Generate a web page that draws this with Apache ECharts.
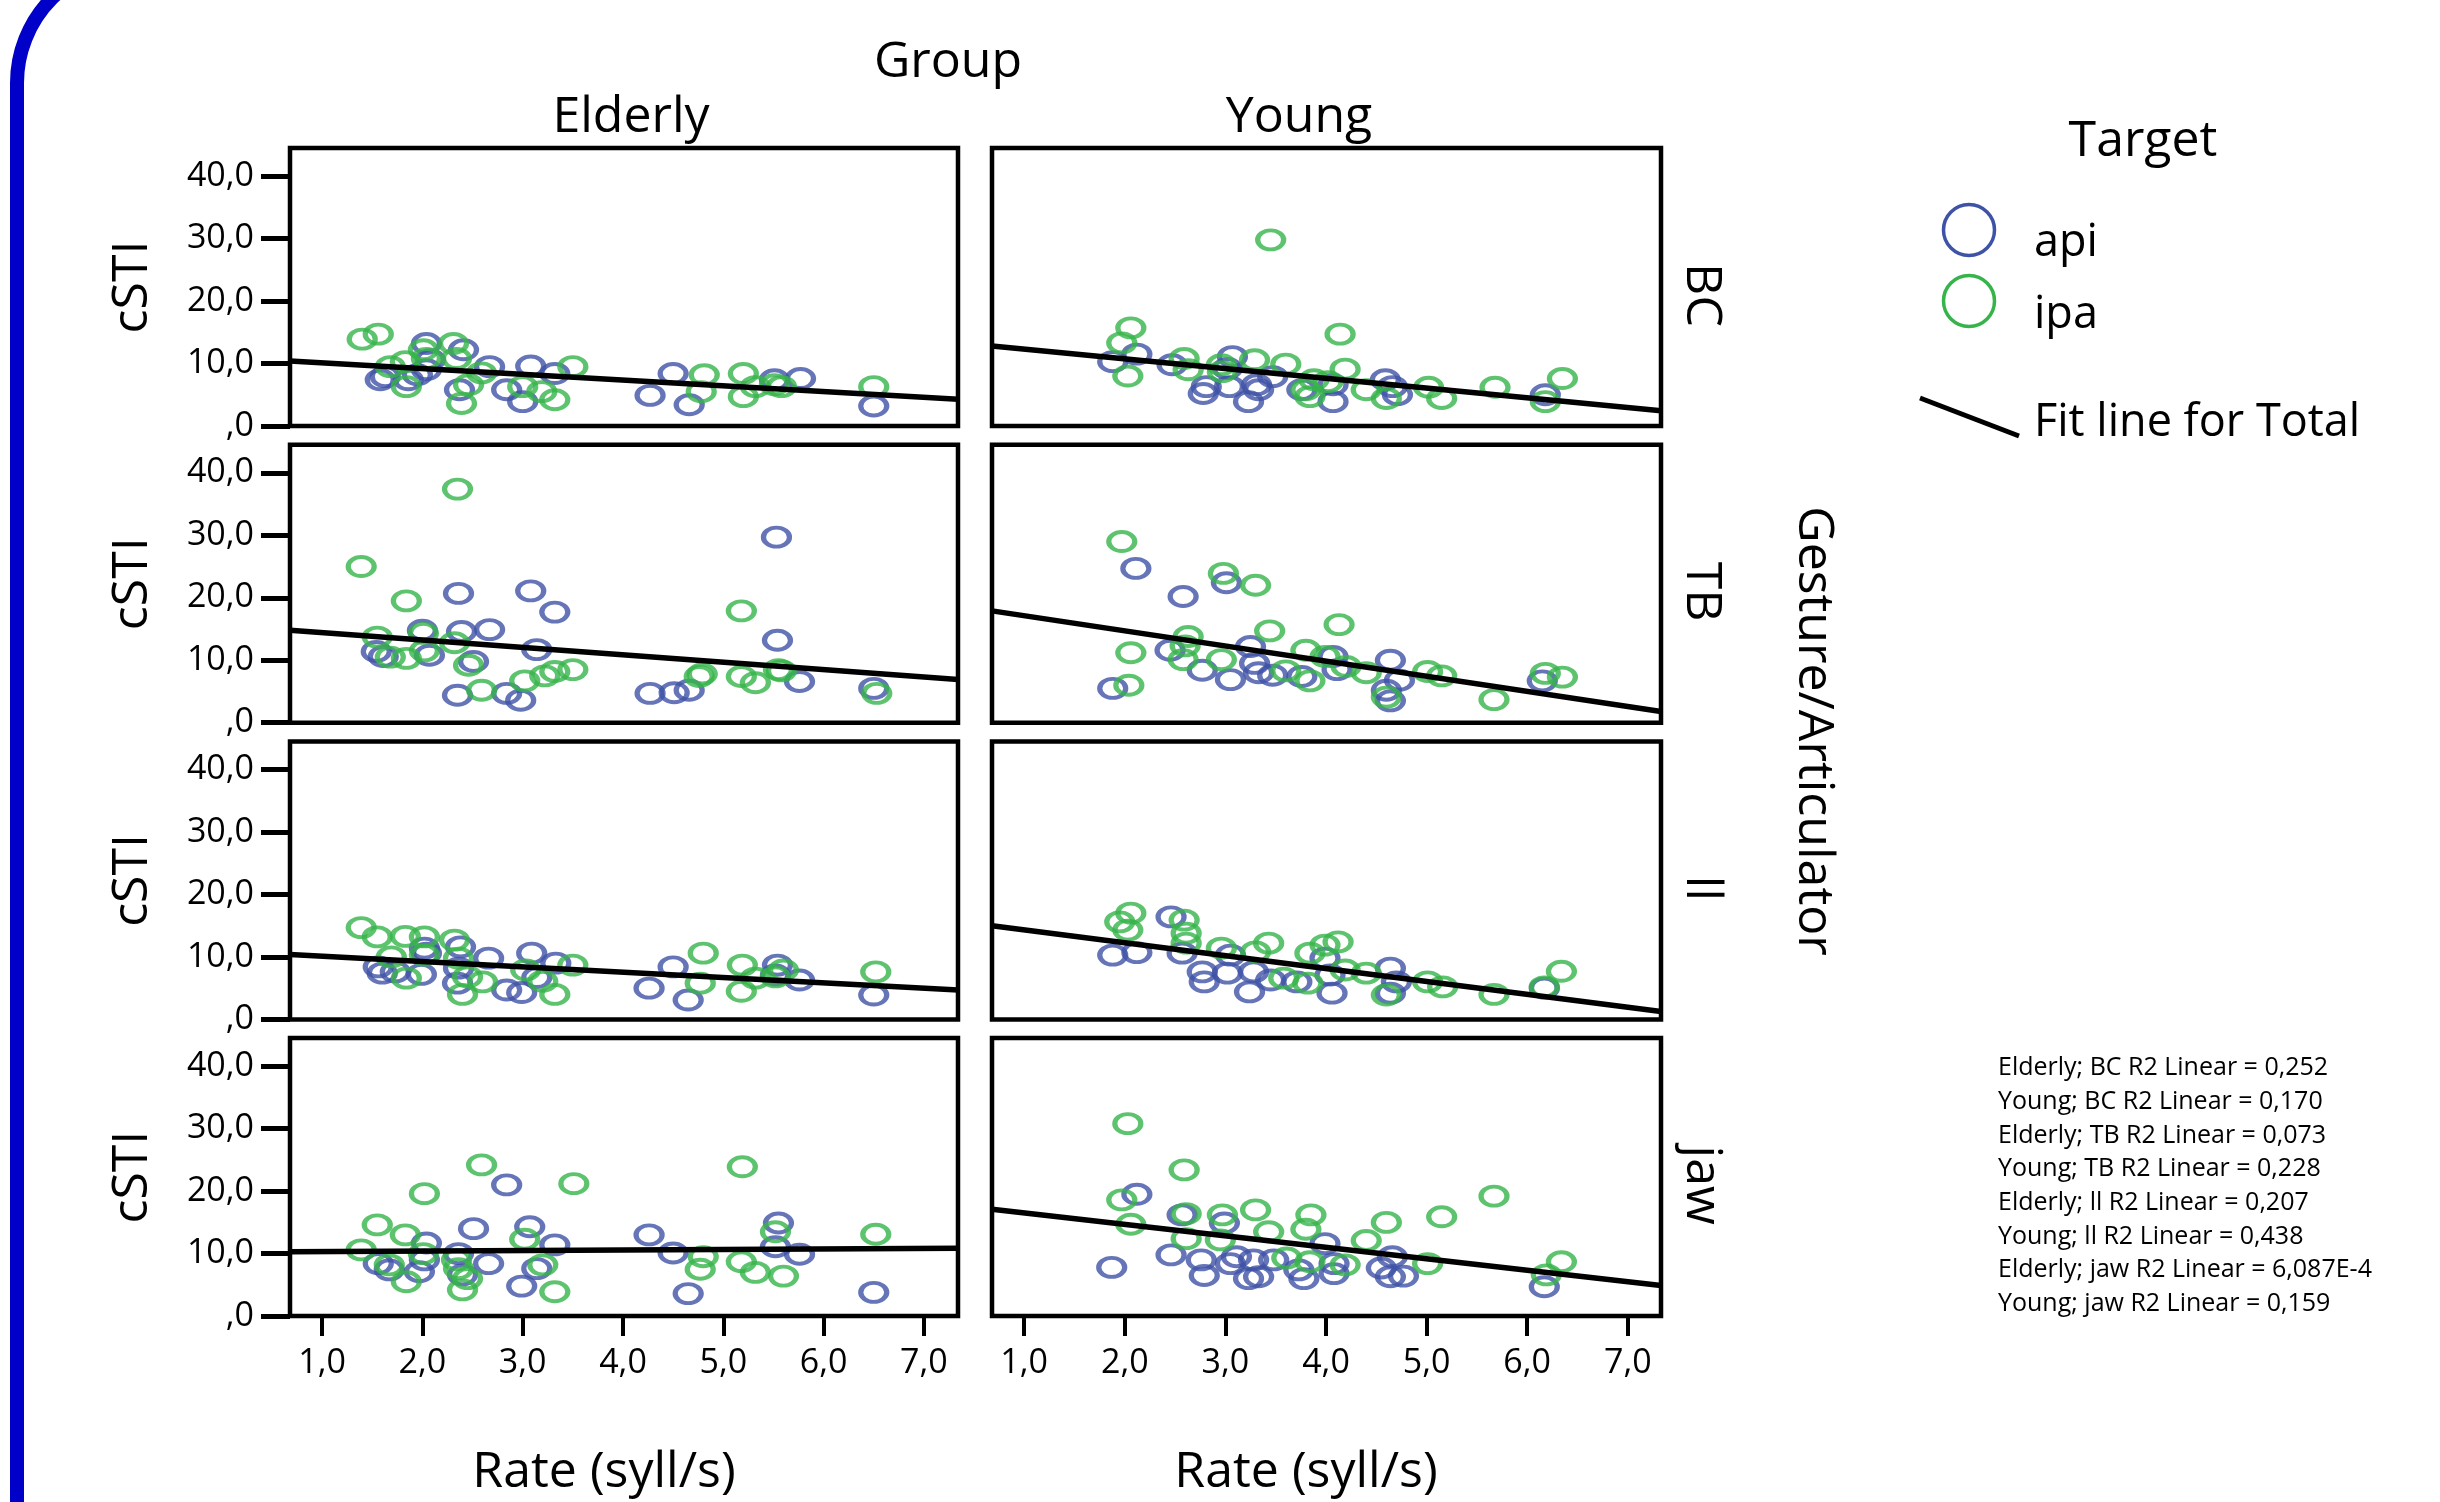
<!DOCTYPE html>
<html><head><meta charset="utf-8">
<script src="https://cdn.jsdelivr.net/npm/echarts@6/dist/echarts.min.js"></script>
<style>html,body{margin:0;padding:0;background:#fff}#c{width:2440px;height:1502px}</style>
</head><body><div id="c"></div>
<script>
// ---------- categories / ticks ----------
const groups = ['Elderly', 'Young'];
const articulators = ['BC', 'TB', 'll', 'jaw'];
const xTicks = [1, 2, 3, 4, 5, 6, 7];
const yTicks = [0, 10, 20, 30, 40];
const targets = ['api', 'ipa'];

// ---------- data: [rate, cSTI] ----------
const elderlyBC_api = [[1.58,7.4],[1.63,7.9],[1.86,7.4],[1.95,8.2],[2.04,13.2],[2.04,9.0],[2.08,10.6],[2.37,5.8],[2.41,12.2],[2.67,9.5],[2.84,5.8],[3.0,3.9],[3.08,9.6],[3.32,8.4],[4.27,4.9],[4.50,8.4],[4.66,3.4],[5.51,7.4],[5.77,7.6],[6.50,3.2]];
const elderlyBC_ipa = [[1.40,13.9],[1.56,14.7],[1.68,9.5],[1.83,10.3],[1.84,6.3],[2.01,12.2],[2.04,10.8],[2.31,13.2],[2.34,10.8],[2.39,3.6],[2.46,6.6],[2.59,8.5],[3.0,6.3],[3.19,5.5],[3.32,4.2],[3.50,9.5],[4.78,5.5],[4.81,8.2],[5.20,8.4],[5.20,4.7],[5.32,6.3],[5.51,6.6],[5.58,6.3],[6.50,6.3]];
const youngBC_api = [[1.88,10.3],[2.12,11.5],[2.47,9.8],[2.78,5.2],[2.81,6.3],[3.02,9.2],[3.04,6.3],[3.07,11.1],[3.23,3.9],[3.31,6.6],[3.33,5.8],[3.47,7.9],[3.76,5.8],[4.07,3.9],[4.07,6.6],[4.59,7.4],[4.66,6.3],[4.71,5.0],[6.18,5.0]];
const youngBC_ipa = [[1.97,13.3],[2.03,8.0],[2.06,15.7],[2.59,10.8],[2.63,9.0],[2.96,9.8],[2.97,8.7],[3.29,10.6],[3.45,29.8],[3.60,9.9],[3.80,5.8],[3.84,4.7],[3.88,7.4],[4.02,7.1],[4.14,14.7],[4.19,9.1],[4.40,5.8],[4.60,4.4],[5.02,6.2],[5.15,4.4],[5.68,6.2],[6.18,3.9],[6.35,7.6]];
const elderlyTB_api = [[1.54,11.4],[1.61,10.6],[2.00,14.8],[2.07,10.8],[2.35,4.4],[2.36,20.7],[2.39,14.6],[2.51,9.8],[2.67,14.9],[2.84,4.7],[2.98,3.6],[3.08,21.1],[3.14,11.7],[3.32,17.7],[4.27,4.7],[4.51,4.8],[4.66,5.2],[5.53,29.7],[5.54,13.2],[5.76,6.6],[6.50,5.5]];
const elderlyTB_ipa = [[1.39,25.0],[1.55,13.7],[1.68,10.5],[1.84,10.3],[1.84,19.5],[2.01,14.3],[2.02,11.5],[2.32,12.8],[2.35,37.4],[2.46,9.2],[2.59,5.2],[3.02,6.7],[3.22,7.5],[3.32,8.2],[3.50,8.5],[4.76,7.4],[4.79,7.8],[5.18,17.9],[5.18,7.4],[5.32,6.4],[5.55,8.5],[5.58,8.3],[6.53,4.7]];
const youngTB_api = [[1.88,5.5],[2.11,24.7],[2.45,11.6],[2.58,20.2],[2.77,8.4],[3.01,22.4],[3.05,6.9],[3.25,12.2],[3.29,9.5],[3.33,8.0],[3.47,7.6],[3.76,7.4],[4.07,10.6],[4.11,8.5],[4.60,5.2],[4.64,10.0],[4.64,3.5],[4.73,6.8],[6.15,6.7]];
const youngTB_ipa = [[1.97,29.0],[2.04,6.0],[2.06,11.2],[2.58,10.1],[2.60,12.3],[2.63,13.8],[2.96,10.1],[2.98,23.9],[3.30,22.0],[3.44,14.7],[3.60,8.3],[3.80,11.6],[3.84,6.7],[3.99,10.6],[4.13,15.7],[4.20,9.0],[4.40,8.0],[4.60,4.1],[5.01,8.2],[5.15,7.5],[5.67,3.7],[6.18,7.9],[6.35,7.3]];
const elderlyLL_api = [[1.56,8.4],[1.60,7.4],[1.73,7.6],[1.99,7.2],[2.02,11.4],[2.04,10.6],[2.35,5.8],[2.36,8.2],[2.38,11.6],[2.66,9.8],[2.84,4.7],[2.99,4.3],[3.09,10.6],[3.14,6.7],[3.33,9.0],[4.26,5.0],[4.50,8.4],[4.65,3.1],[5.52,7.1],[5.54,8.7],[5.76,6.3],[6.50,3.9]];
const elderlyLL_ipa = [[1.39,14.7],[1.55,13.2],[1.69,10.0],[1.83,13.3],[1.84,6.6],[2.02,13.2],[2.02,10.3],[2.32,12.7],[2.36,9.8],[2.40,4.0],[2.45,6.8],[2.60,6.0],[3.03,7.9],[3.20,6.1],[3.32,4.0],[3.50,8.7],[4.77,5.8],[4.80,10.6],[5.18,4.5],[5.19,8.7],[5.32,6.6],[5.52,6.8],[5.60,7.9],[6.52,7.6]];
const youngLL_api = [[1.88,10.3],[2.12,10.7],[2.46,16.4],[2.57,10.6],[2.77,7.6],[2.79,6.0],[3.02,7.4],[3.05,10.3],[3.24,4.4],[3.28,7.6],[3.45,6.3],[3.71,6.0],[3.99,9.8],[4.04,7.1],[4.06,4.2],[4.64,8.2],[4.64,4.2],[4.70,6.0],[6.17,5.0]];
const youngLL_ipa = [[1.95,15.6],[2.03,14.3],[2.06,17.0],[2.59,15.9],[2.61,13.8],[2.61,12.2],[2.96,11.4],[3.30,10.8],[3.43,12.2],[3.58,6.6],[3.82,5.8],[3.84,10.6],[3.99,11.9],[4.12,12.4],[4.19,7.9],[4.40,7.4],[4.60,3.9],[5.01,6.0],[5.16,5.2],[5.67,4.0],[6.17,5.2],[6.34,7.7]];
const elderlyJaw_api = [[1.56,8.4],[1.67,7.4],[1.97,7.1],[2.02,9.0],[2.04,11.7],[2.36,10.0],[2.40,6.6],[2.51,14.0],[2.66,8.4],[2.84,21.0],[2.99,4.8],[3.07,14.3],[3.14,7.6],[3.32,11.4],[4.26,13.0],[4.50,10.1],[4.65,3.6],[5.52,11.1],[5.55,14.9],[5.76,9.9],[6.50,3.8]];
const elderlyJaw_ipa = [[1.39,10.6],[1.55,14.6],[1.67,8.2],[1.83,13.0],[1.84,5.5],[2.01,10.0],[2.02,19.6],[2.34,9.0],[2.36,7.6],[2.40,4.2],[2.45,6.0],[2.59,24.2],[3.02,12.3],[3.20,8.2],[3.32,3.9],[3.51,21.2],[4.77,7.5],[4.80,9.5],[5.18,8.7],[5.19,23.9],[5.32,7.0],[5.52,13.5],[5.60,6.4],[6.52,13.1]];
const youngJaw_api = [[1.87,7.8],[2.12,19.5],[2.46,9.8],[2.57,16.2],[2.76,9.0],[2.79,6.5],[2.99,14.9],[3.05,8.4],[3.11,9.5],[3.23,6.0],[3.28,9.0],[3.33,6.3],[3.48,9.0],[3.73,7.4],[3.78,6.0],[3.99,11.6],[4.08,8.4],[4.08,6.8],[4.55,7.7],[4.64,6.3],[4.66,9.5],[4.77,6.4],[6.17,4.7]];
const youngJaw_ipa = [[1.97,18.6],[2.03,30.8],[2.06,14.7],[2.59,23.4],[2.61,16.4],[2.61,12.4],[2.95,12.2],[2.97,16.2],[3.30,17.0],[3.43,13.5],[3.61,9.3],[3.80,13.9],[3.84,8.7],[3.85,16.2],[4.19,8.2],[4.40,12.1],[4.60,15.0],[5.01,8.4],[5.15,15.9],[5.67,19.2],[6.19,6.6],[6.34,8.7]];

// fit line for total: cSTI at the left and right ends of the x range
const fitX = [0.68, 7.34];
const fitElderlyBC = [10.4, 4.3];
const fitYoungBC = [12.8, 2.45];
const fitElderlyTB = [14.8, 6.9];
const fitYoungTB = [17.9, 1.8];
const fitElderlyLL = [10.4, 4.7];
const fitYoungLL = [15.0, 1.25];
const fitElderlyJaw = [10.3, 10.85];
const fitYoungJaw = [17.1, 4.9];

const r2Labels = [
  'Elderly; BC R2 Linear = 0,252',
  'Young; BC R2 Linear = 0,170',
  'Elderly; TB R2 Linear = 0,073',
  'Young; TB R2 Linear = 0,228',
  'Elderly; ll R2 Linear = 0,207',
  'Young; ll R2 Linear = 0,438',
  'Elderly; jaw R2 Linear = 6,087E-4',
  'Young; jaw R2 Linear = 0,159'
];

// ---------- build ----------
const panels = [
  [elderlyBC_api, elderlyBC_ipa, fitElderlyBC], [youngBC_api, youngBC_ipa, fitYoungBC],
  [elderlyTB_api, elderlyTB_ipa, fitElderlyTB], [youngTB_api, youngTB_ipa, fitYoungTB],
  [elderlyLL_api, elderlyLL_ipa, fitElderlyLL], [youngLL_api, youngLL_ipa, fitYoungLL],
  [elderlyJaw_api, elderlyJaw_ipa, fitElderlyJaw], [youngJaw_api, youngJaw_ipa, fitYoungJaw]
];

const FONT = 'Open Sans';
const BLUE = '#3E53A6';
const GREEN = '#36B44A';
const colLeft = [290, 992], colWidth = [668, 669];
const rowTop = [148, 444.7, 741.4, 1038.1], rowH = 278;
const xMax = [7.34, 7.33];
const fmt = v => (v === 0 ? ',0' : v.toFixed(1).replace('.', ','));

const grid = [], xAxis = [], yAxis = [], series = [];
panels.forEach((p, i) => {
  const row = Math.floor(i / 2), col = i % 2;
  grid.push({ left: colLeft[col], top: rowTop[row], width: colWidth[col], height: rowH,
    show: true, borderColor: '#000', borderWidth: 4.5, backgroundColor: 'rgba(0,0,0,0)',
    containLabel: false, outerBoundsMode: 'none' });
  xAxis.push({ type: 'value', gridIndex: i, min: 0.68, max: xMax[col],
    axisLine: { show: false, onZero: false }, splitLine: { show: false },
    axisTick: { show: row === 3, length: 20, lineStyle: { width: 4, color: '#000' }, customValues: xTicks },
    axisLabel: { show: row === 3, customValues: xTicks, formatter: fmt, fontFamily: FONT, fontSize: 34, color: '#000', margin: 30 } });
  yAxis.push({ type: 'value', gridIndex: i, min: 0, max: 44.5,
    axisLine: { show: false, onZero: false }, splitLine: { show: false },
    axisTick: { show: col === 0, length: 29, lineStyle: { width: 5, color: '#000' }, customValues: yTicks },
    axisLabel: { show: col === 0, customValues: yTicks, formatter: fmt, fontFamily: FONT, fontSize: 34, color: '#000', margin: 36 } });
  [[p[0], BLUE, targets[0]], [p[1], GREEN, targets[1]]].forEach(([d, c, n]) => {
    series.push({ type: 'scatter', name: n, xAxisIndex: i, yAxisIndex: i, data: d,
      symbol: 'circle', symbolSize: [26, 19],
      itemStyle: { color: 'rgba(0,0,0,0)', borderColor: c, borderWidth: 4.5 }, silent: true });
  });
  series.push({ type: 'line', name: 'Fit line for Total', xAxisIndex: i, yAxisIndex: i,
    data: [[fitX[0], p[2][0]], [xMax[col], p[2][1]]], symbol: 'none', silent: true,
    lineStyle: { color: '#000', width: 5.5 } });
});

function txt(text, x, y, size, opt) {
  opt = opt || {};
  return { type: 'text', x: x, y: y, rotation: opt.rot || 0, silent: true,
    style: { text: text, fontFamily: FONT, fontSize: size, fill: '#000',
      align: opt.align || 'center', verticalAlign: 'middle' } };
}

const graphic = [];
// blue rounded frame
graphic.push({ type: 'rect', silent: true, shape: { x: 17, y: -37, width: 3000, height: 3000, r: [120, 0, 0, 0] },
  style: { fill: 'none', stroke: '#0000C8', lineWidth: 14 } });
graphic.push(txt('Group', 948, 63, 50));
graphic.push(txt(groups[0], 631, 118, 50));
graphic.push(txt(groups[1], 1299, 118, 50));
rowTop.forEach((t, r) => {
  graphic.push(txt('cSTI', 133, t + rowH / 2, 50, { rot: Math.PI / 2 }));
  graphic.push(txt(articulators[r], 1701, t + rowH / 2 + 8, 50, { rot: -Math.PI / 2 }));
});
graphic.push(txt('Gesture/Articulator', 1813, 731, 50, { rot: -Math.PI / 2 }));
graphic.push(txt('Rate (syll/s)', 604, 1473, 50));
graphic.push(txt('Rate (syll/s)', 1306, 1473, 50));
// legend
graphic.push(txt('Target', 2143, 142, 50));
graphic.push({ type: 'circle', silent: true, shape: { cx: 1969, cy: 230, r: 25.5 }, style: { fill: 'none', stroke: BLUE, lineWidth: 3.5 } });
graphic.push({ type: 'circle', silent: true, shape: { cx: 1969, cy: 301, r: 25.5 }, style: { fill: 'none', stroke: GREEN, lineWidth: 3.5 } });
graphic.push(txt(targets[0], 2034, 243, 45, { align: 'left' }));
graphic.push(txt(targets[1], 2034, 315, 45, { align: 'left' }));
graphic.push({ type: 'line', silent: true, shape: { x1: 1920, y1: 398, x2: 2019, y2: 436 }, style: { stroke: '#000', lineWidth: 5 } });
graphic.push(txt('Fit line for Total', 2034, 423, 45, { align: 'left' }));
r2Labels.forEach((s, k) => graphic.push(txt(s, 1998, 1068 + k * 33.7, 25, { align: 'left' })));

const chart = echarts.init(document.getElementById('c'), null, { renderer: 'canvas', width: 2440, height: 1502 });
chart.setOption({ animation: false, backgroundColor: '#fff', grid, xAxis, yAxis, series, graphic });
</script></body></html>
